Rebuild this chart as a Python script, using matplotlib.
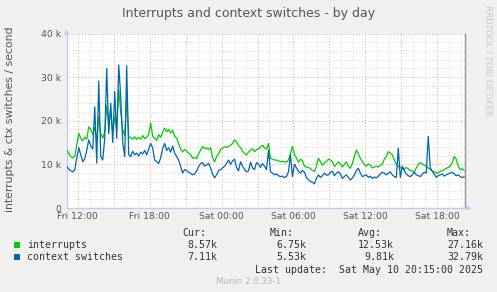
import matplotlib
matplotlib.use("Agg")
import matplotlib.pyplot as plt
import matplotlib.dates as mdates
import pandas as pd
import numpy as np

# ---- data (values in thousands per second), one sample every 10 minutes ----
interrupts = [
    13.3, 12.5, 11.8, 11.5, 11.9, 14.5, 17.1, 16.0, 15.4, 16.2, 15.8, 18.6, 18.0, 16.8,
    18.5, 15.5, 21.0, 17.0, 16.0, 17.5, 23.5, 19.0, 22.5, 17.5, 21.0, 18.0, 27.16, 22.0, 18.0, 16.5, 25.0, 16.5,
    16.0, 15.8, 16.3, 15.7, 16.2, 15.8, 16.6, 15.9, 16.2, 16.8, 19.5, 16.5, 16.0, 15.5, 16.8, 16.2,
    17.4, 18.3, 17.5, 18.0, 17.2, 17.8, 16.5, 16.0, 14.8, 13.5, 12.9, 13.4, 13.0, 12.6, 12.2,
    11.4, 11.6, 11.3, 12.4, 13.3, 14.1, 13.6, 13.8, 13.4, 13.9, 11.5, 10.6, 11.8, 12.4, 13.4, 13.7,
    14.0, 13.9, 14.1, 14.4, 14.8, 15.6, 15.2, 14.3, 13.9, 13.0, 12.5, 12.2, 12.8, 13.3, 13.6, 12.9, 13.4,
    13.5, 14.0, 14.4, 13.8, 13.5, 14.8, 11.4, 11.2, 11.0, 11.0, 10.8, 10.6, 10.7, 10.6, 10.5, 11.0,
    12.5, 14.1, 12.2, 11.5, 10.5, 11.2, 10.8, 9.6, 9.4, 9.3, 9.0, 8.6, 8.4, 9.6, 11.4, 10.6, 9.8,
    10.4, 10.6, 11.2, 11.0,
    10.6, 9.5, 10.0, 10.6, 10.2, 9.4, 10.0, 10.6, 9.6, 9.1, 10.2, 11.8, 13.3, 12.4, 11.4, 10.6,
    10.0, 9.6, 10.1, 9.8, 9.2, 9.4, 9.6, 9.4, 9.8, 10.0, 11.2, 11.8, 12.9, 12.6, 12.2, 11.0, 10.0,
    9.5, 9.3, 9.0, 8.8, 9.3, 9.0, 8.6, 8.5, 8.2, 9.2, 10.0, 10.4, 10.1, 9.8, 9.6, 9.2, 8.8, 8.5,
    8.3, 8.1, 8.0, 8.4, 8.6, 8.8, 9.1, 9.3, 9.6, 10.4, 11.8, 11.2, 9.6, 8.8, 9.0, 8.57,
]
context_switches = [
    9.5, 8.9, 8.5, 8.3, 8.8, 11.5, 13.8, 12.2, 10.6, 11.3, 13.2, 15.6, 14.2, 13.5,
    23.2, 10.3, 29.1, 11.8, 11.0, 16.0, 32.0, 17.0, 24.0, 15.0, 26.7, 16.0, 32.79, 25.5, 15.0, 11.8, 32.6, 12.2,
    11.8, 13.0, 12.2, 12.6, 11.9, 12.8, 12.4, 13.2, 12.2, 13.5, 14.8, 13.8, 11.0, 10.6, 10.2, 11.5,
    13.6, 14.8, 13.2, 13.8, 12.8, 14.2, 12.6, 11.8, 11.0, 9.5, 8.0, 8.8, 8.6, 8.2, 8.0,
    7.6, 7.8, 8.5, 9.5, 10.2, 10.4, 9.6, 9.9, 10.2, 9.2, 7.8, 6.9, 7.6, 8.6, 8.8, 9.2,
    9.6, 10.2, 11.0, 10.0, 10.8, 11.2, 9.3, 8.5, 10.6, 9.6, 8.8, 8.3, 8.5, 10.5, 9.2, 8.8, 10.4,
    10.1, 9.3, 10.2, 9.6, 8.8, 13.3, 8.3, 8.0, 7.6, 7.8, 7.4, 7.2, 7.3, 7.0, 7.2, 8.3,
    12.2, 7.2, 10.0, 9.2, 8.4, 8.0, 8.6, 8.2, 7.0, 6.5, 6.1, 5.9, 5.53, 6.8, 7.6, 7.0, 7.4,
    8.0, 7.5, 7.6, 8.2,
    8.4, 7.4, 8.0, 8.3, 7.8, 6.8, 7.2, 7.6, 7.0, 6.4, 6.9, 7.6, 8.6, 9.1, 8.0, 7.2,
    7.4, 7.6, 7.0, 7.3, 6.8, 7.1, 6.9, 7.3, 7.8, 8.2, 8.0, 7.6, 8.0, 8.3, 7.6, 7.2, 7.0,
    13.7, 7.0, 9.6, 8.6, 7.8, 7.4, 7.2, 7.6, 8.2, 7.6, 7.4, 7.2, 7.8, 8.2, 8.0, 16.4, 9.2, 8.4,
    7.8, 7.0, 7.4, 7.6, 7.8, 7.3, 7.6, 7.8, 8.0, 8.2, 7.8, 7.4, 7.6, 7.2, 7.0, 7.11,
]
series_names = ["interrupts", "context switches"]
series_colors = ["#00CC00", "#0066B3"]
cur_vals = ["8.57k", "7.11k"]
min_vals = ["6.75k", "5.53k"]
avg_vals = ["12.53k", "9.81k"]
max_vals = ["27.16k", "32.79k"]
y_ticks = [0, 10000, 20000, 30000, 40000]
y_ticklabels = ["0", "10 k", "20 k", "30 k", "40 k"]
start_time = "2025-05-09 11:05"
title = "Interrupts and context switches - by day"
ylabel = "interrupts & ctx switches / second"
last_update = "Last update:  Sat May 10 20:15:00 2025"

n = min(len(interrupts), len(context_switches))
times = pd.date_range(start_time, periods=n, freq="10min")

W, H = 497, 292
fig = plt.figure(figsize=(W / 100, H / 100), dpi=100)
fig.patch.set_facecolor("#F0F0F0")

def fx(px):
    return px / W

def fy(py):
    return 1 - py / H

L, R, T, B = 66.5, 464.5, 33.5, 208.0
ax = fig.add_axes([fx(L), fy(B), (R - L) / W, (B - T) / H])
ax.set_facecolor("white")

ax.plot(times[:n], np.array(interrupts[:n]) * 1000, color=series_colors[0], lw=0.9, zorder=3)
ax.plot(times[:n], np.array(context_switches[:n]) * 1000, color=series_colors[1], lw=0.9, zorder=4)

x0 = pd.Timestamp("2025-05-09 11:03:30")
x1 = pd.Timestamp("2025-05-10 20:16:30")
ax.set_xlim(x0, x1)
ax.set_ylim(0, 40000)

ax.xaxis.set_major_locator(mdates.HourLocator(byhour=[0, 6, 12, 18]))
ax.xaxis.set_major_formatter(mdates.DateFormatter("%a %H:%M"))
ax.xaxis.set_minor_locator(mdates.HourLocator())
ax.set_yticks(y_ticks)
ax.set_yticklabels(y_ticklabels)
ax.set_yticks(np.arange(0, 40001, 2000), minor=True)

ax.tick_params(axis="both", which="both", length=0, labelsize=6.7, colors="#555555")
ax.tick_params(axis="y", pad=4)
ax.tick_params(axis="x", pad=3.2)

# grid: minor gray, major red
for h in pd.date_range("2025-05-09 12:00", "2025-05-10 20:00", freq="1h"):
    major = (h.hour % 3 == 0)
    ax.axvline(h, color="#E8A0A0" if major else "#D4D4D4", lw=0.7,
               ls=(0, (1, 2)), zorder=1 if major else 0.5)
for v in np.arange(2000, 40001, 2000):
    major = (v % 10000 == 0)
    ax.axhline(v, color="#E8A0A0" if major else "#D4D4D4", lw=0.7,
               ls=(0, (1, 2)), zorder=1 if major else 0.5)

ax.spines["top"].set_visible(False)
ax.spines["right"].set_color("#909090")
ax.spines["right"].set_linewidth(1.0)
ax.spines["left"].set_color("#C8C8F0")
ax.spines["bottom"].set_color("#C8C8F0")
ax.spines["left"].set_linewidth(1.0)
ax.spines["bottom"].set_linewidth(1.0)

# axis arrows
ax.annotate("", xy=(0, 1.04), xytext=(0, 0.99), xycoords="axes fraction",
            arrowprops=dict(arrowstyle="-|>", color="#C8C8F0", lw=1.0, mutation_scale=6),
            annotation_clip=False)
ax.annotate("", xy=(1.025, 0), xytext=(0.99, 0), xycoords="axes fraction",
            arrowprops=dict(arrowstyle="-|>", color="#C8C8F0", lw=1.0, mutation_scale=6),
            annotation_clip=False)

fig.text(fx(249), fy(14), title, ha="center", va="center", fontsize=9.0, color="#555555")
fig.text(fx(10), fy(119.5), ylabel, ha="center", va="center", rotation=90, fontsize=7.8, color="#555555")
fig.text(fx(488), fy(5), "RRDTOOL / TOBI OETIKER", ha="center", va="top", rotation=270,
         fontsize=6.2, color="#C8C8C8")

mono = "DejaVu Sans Mono"
fs = 7.1
tc = "#333333"
headers = ["Cur:", "Min:", "Avg:", "Max:"]
hx = [182, 270, 358, 447]
vx = [217, 306, 394, 483]
for h, x in zip(headers, hx):
    fig.text(fx(x), fy(233), h, ha="left", va="center", fontsize=fs, family=mono, color=tc)
rows_y = [245, 257]
for i in range(2):
    y = rows_y[i]
    fig.patches.append(plt.Rectangle((fx(14), fy(y + 3)), 6 / W, 6 / H, transform=fig.transFigure,
                                     facecolor=series_colors[i], edgecolor="none"))
    fig.text(fx(27), fy(y), series_names[i], ha="left", va="center", fontsize=fs, family=mono, color=tc)
    for vals, x in zip([cur_vals, min_vals, avg_vals, max_vals], vx):
        fig.text(fx(x), fy(y), vals[i], ha="right", va="center", fontsize=fs, family=mono, color=tc)
fig.text(fx(483), fy(270), last_update, ha="right", va="center", fontsize=fs, family=mono, color=tc)
fig.text(fx(248), fy(281), "Munin 2.0.33-1", ha="center", va="center", fontsize=6.2, color="#B8B8B8")

fig.savefig("out.png", dpi=100, facecolor=fig.get_facecolor())
